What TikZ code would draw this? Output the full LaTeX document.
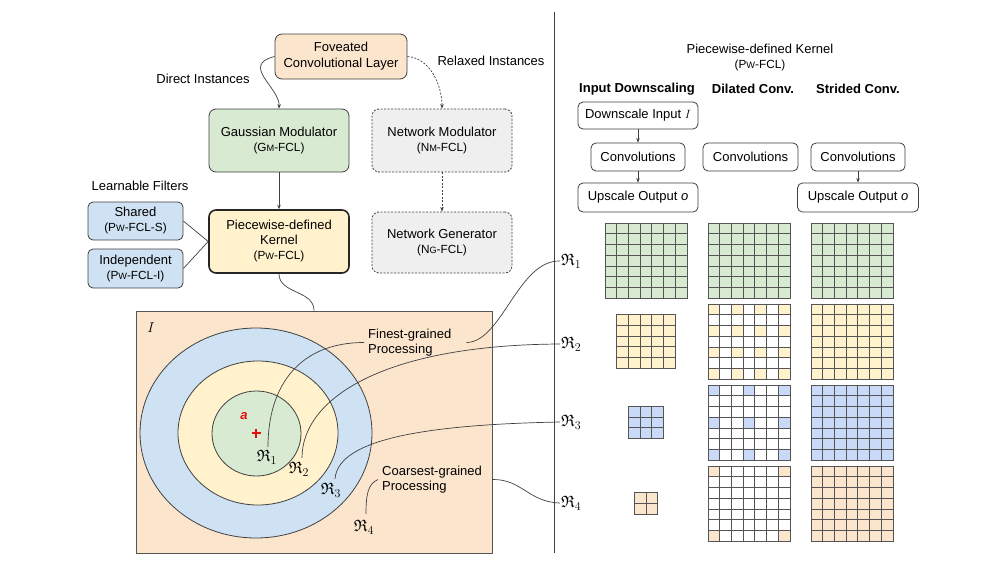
\documentclass[tikz,border=0pt]{standalone}
\usepackage{amssymb}
\usepackage{fontspec}
\setmainfont{Liberation Sans}
\usetikzlibrary{arrows.meta,calc}
\definecolor{cbeige}{HTML}{FCE5CD}
\definecolor{cgreen}{HTML}{D9EAD3}
\definecolor{cyellow}{HTML}{FFF2CC}
\definecolor{cblue}{HTML}{CFE2F3}
\definecolor{cgblue}{HTML}{C9DAF8}
\definecolor{cgray}{HTML}{EFEFEF}
\definecolor{cline}{HTML}{404040}
\definecolor{gridc}{HTML}{555555}
\definecolor{cred}{HTML}{E01010}
\newcommand\smc[1]{{\fontsize{9.2}{10}\selectfont #1}}
\newcommand\sublab[1]{{\fontsize{11.8}{15}\selectfont #1}}
\begin{document}
\begin{tikzpicture}[x=1pt,y=-1pt,
  every node/.style={font=\fontsize{13}{15}\selectfont},
  box/.style={draw=cline, line width=0.8pt, rounded corners=7pt, align=center, inner sep=0pt},
  dbox/.style={box, fill=cgray, dash pattern=on 2pt off 1.5pt},
  sbox/.style={draw=cline, line width=0.8pt, rounded corners=5pt, align=center, inner sep=0pt},
  conn/.style={draw=cline, line width=0.7pt},
  dconn/.style={conn, dash pattern=on 2pt off 1.5pt},
  arr/.style={-{Stealth[length=4.5pt,width=3.5pt]}},
  cell/.style={draw=gridc, line width=0.9pt},
  rlab/.style={font=\fontsize{16.5}{18}\selectfont, inner sep=1pt},
  hdr/.style={font=\fontsize{13}{15}\selectfont\bfseries},
]
\useasboundingbox (0,0) rectangle (1000,565);
\fill[white] (0,0) rectangle (1000,565);

% ---------- left flow ----------
\node[box, fill=cbeige, minimum width=132pt, minimum height=45pt, font=\fontsize{13}{16}\selectfont] (fov) at (341,56.5) {Foveated\\Convolutional Layer};
\node (direct) at (203,79) {Direct Instances};
\node (relaxed) at (491,61) {Relaxed Instances};
\node[box, fill=cgreen, minimum width=140pt, minimum height=63pt] (gauss) at (279,140.5) {Gaussian Modulator\\\sublab{(G\smc{M}-FCL)}};
\node[dbox, minimum width=140pt, minimum height=63pt] (netmod) at (442,140.5) {Network Modulator\\\sublab{(N\smc{M}-FCL)}};
\node[dbox, minimum width=140pt, minimum height=61pt] (netgen) at (442,242.5) {Network Generator\\\sublab{(N\smc{G}-FCL)}};
\node[box, fill=cyellow, line width=1.6pt, draw=black!85, minimum width=140pt, minimum height=63pt] (pw) at (279,241.5) {Piecewise-defined\\Kernel\\\sublab{(P\smc{W}-FCL)}};
\node (learn) at (140,186) {Learnable Filters};
\node[box, rounded corners=5pt, fill=cblue, minimum width=95pt, minimum height=38pt] (shared) at (135.5,221) {Shared\\\sublab{(P\smc{W}-FCL-S)}};
\node[box, rounded corners=5pt, fill=cblue, minimum width=95pt, minimum height=39pt] (indep) at (135.5,268.5) {Independent\\\sublab{(P\smc{W}-FCL-I)}};

\draw[conn, arr] (fov.west) .. controls (240,65) and (280,88) .. (gauss.north);
\draw[dconn, arr] (fov.east) .. controls (430,58) and (442,85) .. (netmod.north);
\draw[conn, arr] (gauss.south) -- (pw.north);
\draw[dconn, arr] (netmod.south) -- (netgen.north);
\draw[conn] (shared.east) -- (pw.west);
\draw[conn] (indep.east) -- (pw.west);

% ---------- input image ----------
\node[draw=gridc, line width=0.8pt, fill=cbeige, minimum width=356pt, minimum height=242pt, inner sep=0pt] (img) at (314,432) {};
\draw[conn] (pw.south) .. controls (279,294) and (314,290) .. (img.north);

\draw[draw=cline, line width=0.8pt, fill=cblue] (256,433) ellipse [x radius=116pt, y radius=105pt];
\draw[draw=cline, line width=0.8pt, fill=cyellow] (258,433) ellipse [x radius=80pt, y radius=72pt];
\draw[draw=cline, line width=0.8pt, fill=cgreen] (256.5,433.5) ellipse [x radius=44.5pt, y radius=42.5pt];

\node[font=\fontsize{15}{16}\selectfont] (ii) at (151,328) {$I$};
\node[text=cred, font=\fontsize{13}{15}\selectfont\bfseries\itshape] (aa) at (244,416) {a};
\draw[cred, line width=2.6pt] (251.5,433) -- (260.5,433) (256,428.5) -- (256,437.5);

\node[rlab] (r1) at (267,457) {$\mathfrak{R}_1$};
\node[rlab] (r2) at (299,469) {$\mathfrak{R}_2$};
\node[rlab] (r3) at (331,490) {$\mathfrak{R}_3$};
\node[rlab] (r4) at (364,527) {$\mathfrak{R}_4$};

\node[anchor=west, align=left, inner sep=4pt, font=\fontsize{13}{15}\selectfont] (finest) at (364,342.5) {Finest-grained\\Processing};
\node[anchor=west, align=left, inner sep=4pt, font=\fontsize{13}{15}\selectfont] (coarse) at (378,479.5) {Coarsest-grained\\Processing};
\coordinate (fe) at ($(finest.east)+(11,0)$);
\coordinate (ce) at (img.east |- coarse.west);

% ---------- divider ----------
\draw[draw=cline, line width=0.8pt] (554,12) -- (554,553);

% ---------- right labels ----------
\node[rlab, anchor=west] (rr1) at (560,261) {$\mathfrak{R}_1$};
\node[rlab, anchor=west] (rr2) at (560,344) {$\mathfrak{R}_2$};
\node[rlab, anchor=west] (rr3) at (560,422) {$\mathfrak{R}_3$};
\node[rlab, anchor=west] (rr4) at (560,503) {$\mathfrak{R}_4$};

\draw[conn] ($(r1.north)+(1,-2)$) .. controls (268,385) and (300,342.5) .. (finest.west);
\draw[conn] (fe) .. controls (502,342) and (518,260) .. (rr1.west);
\draw[conn] ($(r2.north)+(3,-3)$) .. controls (302,400) and (380,345) .. (rr2.west);
\draw[conn] ($(r3.north)+(4,-3)$) .. controls (338,445) and (400,425) .. (rr3.west);
\draw[conn] (coarse.west) .. controls (368,484) and (366,494) .. ($(r4.north)+(2,-5)$);
\draw[conn] (ce) .. controls (522,479) and (528,502) .. (rr4.west);

% ---------- right header ----------
\node[align=center] (kh) at (760,57.5) {Piecewise-defined Kernel\\\sublab{(P\smc{W}-FCL)}};
\node[hdr] (h1) at (637,89) {Input Downscaling};
\node[hdr] (h2) at (753,89) {Dilated Conv.};
\node[hdr] (h3) at (858,89) {Strided Conv.};

\node[sbox, minimum width=120pt, minimum height=27pt] (ds) at (638,115.5) {Downscale Input $I$};
\node[sbox, minimum width=94pt, minimum height=28pt] (cv1) at (638,157) {Convolutions};
\node[sbox, minimum width=120pt, minimum height=29pt] (up1) at (638,197.5) {Upscale Output \textit{o}};
\node[sbox, minimum width=95pt, minimum height=28pt] (cv2) at (750.5,157) {Convolutions};
\node[sbox, minimum width=94pt, minimum height=28pt] (cv3) at (858,157) {Convolutions};
\node[sbox, minimum width=121pt, minimum height=29pt] (up3) at (858,197.5) {Upscale Output \textit{o}};
\draw[conn, arr] (ds.south) -- (cv1.north);
\draw[conn, arr] (cv1.south) -- (up1.north);
\draw[conn, arr] (cv3.south) -- (up3.north);

% ---------- grids ----------
\foreach \gx/\gy/\c in {605/223/cgreen, 708/223/cgreen, 811/223/cgreen, 811/304/cyellow, 811/385/cgblue, 811/466/cbeige, 708/304/white, 708/385/white, 708/466/white}{
  \foreach \i in {0,...,6}{\foreach \j in {0,...,6}{
    \draw[cell, fill=\c] ({\gx+\i*11.714},{\gy+\j*10.75}) rectangle ++(11.714,10.75);
  }}
}
\foreach \i in {0,2,4,6}{\foreach \j in {0,2,4,6}{
  \draw[cell, fill=cyellow] ({708+\i*11.714},{304+\j*10.75}) rectangle ++(11.714,10.75);
}}
\foreach \i in {0,3,6}{\foreach \j in {0,3,6}{
  \draw[cell, fill=cgblue] ({708+\i*11.714},{385+\j*10.75}) rectangle ++(11.714,10.75);
}}
\foreach \i in {0,6}{\foreach \j in {0,6}{
  \draw[cell, fill=cbeige] ({708+\i*11.714},{466+\j*10.75}) rectangle ++(11.714,10.75);
}}
\foreach \i in {0,...,4}{\foreach \j in {0,...,4}{
  \draw[cell, fill=cyellow] ({616.7+\i*11.714},{314.6+\j*10.75}) rectangle ++(11.714,10.75);
}}
\foreach \i in {0,...,2}{\foreach \j in {0,...,2}{
  \draw[cell, fill=cgblue] ({628.4+\i*11.714},{406.4+\j*10.75}) rectangle ++(11.714,10.75);
}}
\foreach \i in {0,1}{\foreach \j in {0,1}{
  \draw[cell, fill=cbeige] ({634.3+\i*11.714},{492.75+\j*10.75}) rectangle ++(11.714,10.75);
}}
\end{tikzpicture}
\end{document}
